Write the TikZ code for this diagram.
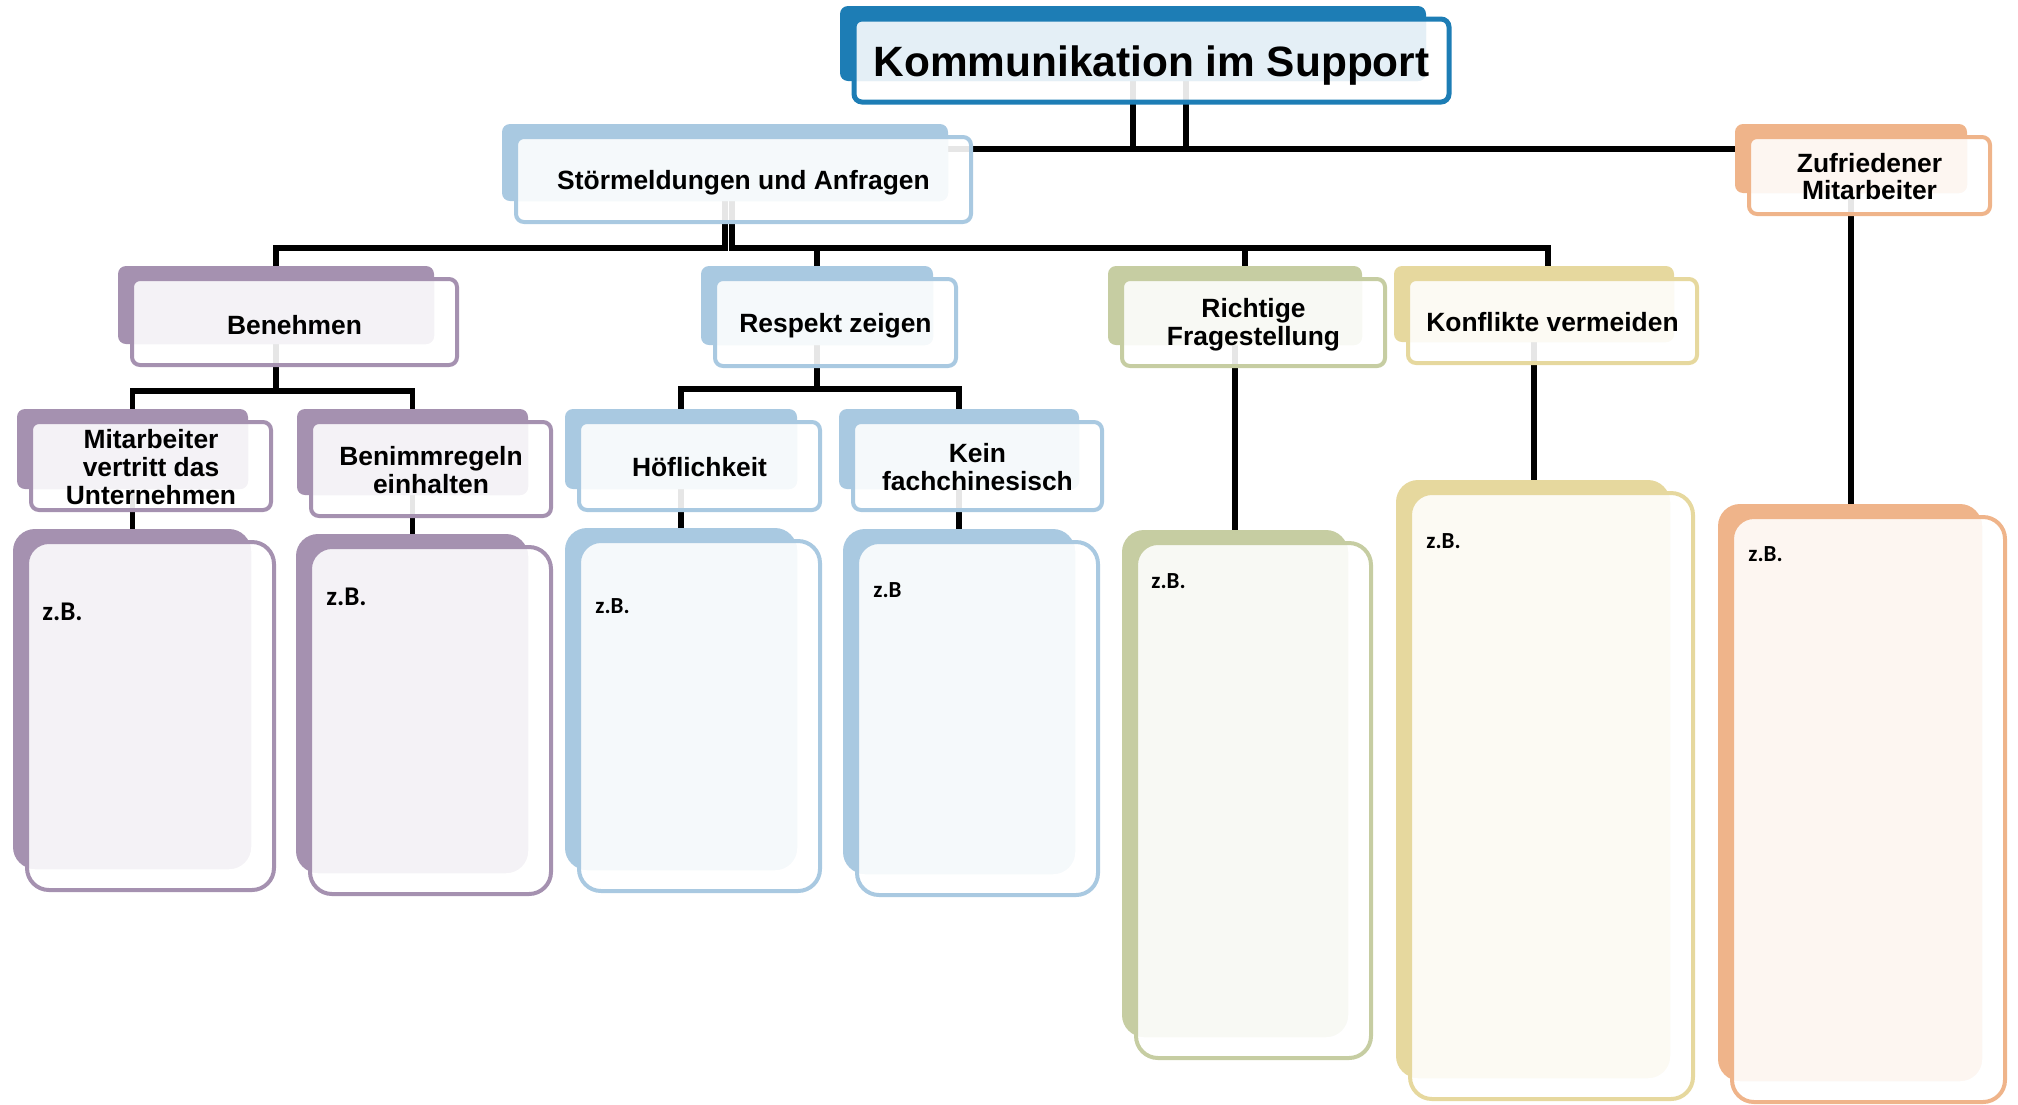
\documentclass[tikz,border=0pt]{standalone}
\usepackage{fontspec}
\setmainfont{Liberation Sans}
\newfontfamily\notefont{Carlito}
\pgfdeclarelayer{wires}
\pgfsetlayers{wires,main}

\definecolor{deepblue}{RGB}{29,125,181}
\definecolor{paleblue}{RGB}{169,201,225}
\definecolor{lilac}{RGB}{165,145,176}
\definecolor{sage}{RGB}{198,205,162}
\definecolor{sand}{RGB}{230,216,158}
\definecolor{apricot}{RGB}{239,180,138}

\tikzset{
  backbox/.style={rectangle, inner sep=0pt, outer sep=0pt, anchor=north west},
  frontbox/.style={rectangle, inner sep=0pt, outer sep=0pt, anchor=north west,
    fill=white, fill opacity=0.9},
  wire/.style={line width=2.6pt, black},
  lbl/.style={font=\bfseries\fontsize{13.2}{13.8}\selectfont, align=center, inner sep=0pt},
  note/.style={font=\notefont\bfseries\fontsize{11.5}{13}\selectfont, inner sep=0pt, anchor=base west},
  bignote/.style={note, font=\notefont\bfseries\fontsize{13.5}{15}\selectfont},
}

% Two stacked rounded boxes: a solid back plate and an outlined front card,
% tinted where the two overlap.  Arguments: [border width], name, colour,
% corner radius, then the back plate's corners x1,y1,x2,y2 (1 unit = 1 px, y downward).
\newcommand\twinbox[8][2pt]{%
  \pgfmathsetmacro\tbw{(#7-#5)/2}%
  \pgfmathsetmacro\tbh{(#8-#6)/2}%
  \pgfmathsetmacro\tfw{(#7-#5)/2+4.5}%
  \pgfmathsetmacro\tfh{(#8-#6)/2+4}%
  \pgfmathsetmacro\tbr{#4/2}%
  \node[backbox, fill=#3, rounded corners=\tbr pt,
        minimum width=\tbw pt, minimum height=\tbh pt] (#2) at (#5,#6) {};
  \node[frontbox, rounded corners=\tbr pt,
        minimum width=\tfw pt, minimum height=\tfh pt] (#2-f) at (#5+14,#6+13) {};
  \begin{scope}
    \clip[rounded corners=\tbr pt] (#2-f.north west) rectangle (#2-f.south east);
    \fill[#3!12!white, rounded corners=\tbr pt] (#2.north west) rectangle (#2.south east);
  \end{scope}
  \draw[#3, line width=#1, rounded corners=\tbr pt] (#2-f.north west) rectangle (#2-f.south east);
}

\begin{document}
\begin{tikzpicture}[x=0.5pt, y=-0.5pt]
\useasboundingbox (0,0) rectangle (2018,1104);

% ---- boxes ----
\twinbox[2.5pt]{title}{deepblue}{8}{840}{6}{1426}{81}
\twinbox{stoer}{paleblue}{8}{502}{124}{948}{201}
\twinbox{zuf}{apricot}{8}{1735}{124}{1967}{193}

\twinbox{ben}{lilac}{8}{118}{266}{434}{344}
\twinbox{res}{paleblue}{8}{701}{266}{933}{345}
\twinbox{ric}{sage}{8}{1108}{266}{1362}{345}
\twinbox{kon}{sand}{8}{1394}{266}{1674}{342}

\twinbox{mit}{lilac}{8}{17}{409}{248}{489}
\twinbox{bim}{lilac}{8}{297}{409}{528}{495}
\twinbox{hoe}{paleblue}{8}{565}{409}{797}{489}
\twinbox{kein}{paleblue}{8}{839}{409}{1079}{489}

\twinbox{zbA}{lilac}{22}{13}{529}{251}{869}
\twinbox{zbB}{lilac}{22}{296}{534}{528}{873}
\twinbox{zbC}{paleblue}{22}{565}{528}{797}{870}
\twinbox{zbD}{paleblue}{22}{843}{529}{1075}{874}
\twinbox{zbE}{sage}{22}{1122}{530}{1348}{1037}
\twinbox{zbF}{sand}{22}{1396}{480}{1670}{1078}
\twinbox{zbG}{apricot}{22}{1718}{504}{1982}{1081}

% ---- labels ----
\node[lbl, font=\bfseries\fontsize{21.2}{24}\selectfont] (title-t) at ([yshift=-2.5pt]title-f.center) {Kommunikation im Support};
\node[lbl] (stoer-t) at ([yshift=-1.5pt]stoer-f.center) {Störmeldungen und Anfragen};
\node[lbl] (zuf-t) at ([yshift=-0.5pt]zuf-f.center) {Zufriedener\\Mitarbeiter};
\node[lbl] (ben-t) at ([yshift=-1.5pt]ben-f.center) {Benehmen};
\node[lbl] (res-t) at ([yshift=-1.5pt]res-f.center) {Respekt zeigen};
\node[lbl] (ric-t) at ([yshift=-1pt]ric-f.center) {Richtige\\Fragestellung};
\node[lbl] (kon-t) at ([yshift=-0.5pt]kon-f.center) {Konflikte vermeiden};
\node[lbl] (mit-t) at ([yshift=-0.5pt]mit-f.center) {Mitarbeiter\\vertritt das\\Unternehmen};
\node[lbl] (bim-t) at ([yshift=-0.5pt]bim-f.center) {Benimmregeln\\einhalten};
\node[lbl] (hoe-t) at ([yshift=-0.5pt]hoe-f.center) {Höflichkeit};
\node[lbl] (kein-t) at ([yshift=-0.5pt]kein-f.center) {Kein\\fachchinesisch};

\node[bignote] (zbA-t) at ([shift={(15,78)}]zbA-f.north west) {z.B.};
\node[bignote] (zbB-t) at ([shift={(16,58)}]zbB-f.north west) {z.B.};
\node[note] (zbC-t) at ([shift={(16,72)}]zbC-f.north west) {z.B.};
\node[note] (zbD-t) at ([shift={(16,55)}]zbD-f.north west) {z.B};
\node[note] (zbE-t) at ([shift={(15,45)}]zbE-f.north west) {z.B.};
\node[note] (zbF-t) at ([shift={(16,55)}]zbF-f.north west) {z.B.};
\node[note] (zbG-t) at ([shift={(16,44)}]zbG-f.north west) {z.B.};

% ---- connectors (behind the boxes) ----
\begin{pgfonlayer}{wires}
  \draw[wire] ([xshift=26.5pt]title.south) |- ([yshift=6.75pt]stoer.east);
  \draw[wire] (title.south) |- ([yshift=4.75pt]zuf.west);

  \draw[wire] (stoer.south) -- ++(0,47) -| (ben.north);
  \draw[wire] ([xshift=3.5pt]stoer.south) -- ++(0,47) -| (res.north);
  \draw[wire] ([xshift=3.5pt]stoer.south) -- ++(0,47) -| ([xshift=5pt]ric.north);
  \draw[wire] ([xshift=3.5pt]stoer.south) -- ++(0,47) -| ([xshift=7pt]kon.north);

  \draw[wire] (ben.south) -- ++(0,47) -| (mit.north);
  \draw[wire] (ben.south) -- ++(0,47) -| (bim.north);
  \draw[wire] (res.south) -- ++(0,44) -| (hoe.north);
  \draw[wire] (res.south) -- ++(0,44) -| (kein.north);

  \draw[wire] (mit.south) -- (mit.south |- zbA.north);
  \draw[wire] (bim.south) -- (bim.south |- zbB.north);
  \draw[wire] (hoe.south) -- (hoe.south |- zbC.north);
  \draw[wire] (kein.south) -- (kein.south |- zbD.north);
  \draw[wire] (ric.south) -- (ric.south |- zbE.north);
  \draw[wire] (kon.south) -- (kon.south |- zbF.north);
  \draw[wire] (zuf.south) -- (zuf.south |- zbG.north);
\end{pgfonlayer}
\end{tikzpicture}
\end{document}
